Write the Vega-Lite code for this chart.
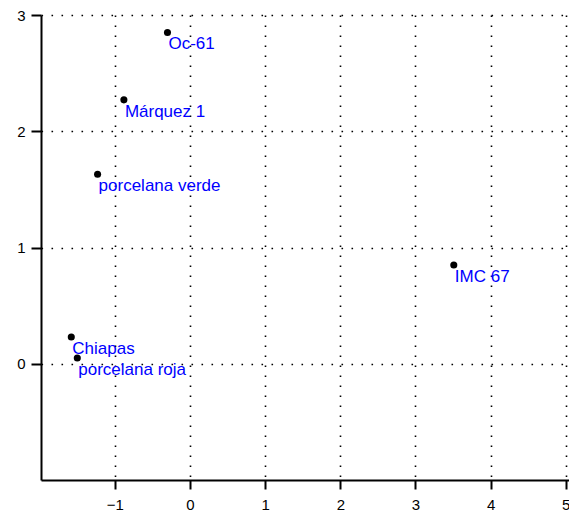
{
  "$schema": "https://vega.github.io/schema/vega-lite/v6.json",
  "width": 528,
  "height": 465,
  "autosize": {"type": "none"},
  "padding": {"left": 41, "top": 15, "right": 0, "bottom": 32},
  "background": "white",
  "config": {
    "view": {"stroke": null},
    "font": "Liberation Sans"
  },
  "data": {
    "values": [
      {"x": -0.30, "y": 2.85, "label": "Oc-61"},
      {"x": -0.88, "y": 2.27, "label": "Márquez 1"},
      {"x": -1.23, "y": 1.63, "label": "porcelana verde"},
      {"x": 3.51, "y": 0.85, "label": "IMC 67"},
      {"x": -1.58, "y": 0.23, "label": "Chiapas"},
      {"x": -1.50, "y": 0.05, "label": "porcelana roja"}
    ]
  },
  "encoding": {
    "x": {
      "field": "x",
      "type": "quantitative",
      "scale": {"domain": [-1.983, 5.043], "nice": false, "zero": false},
      "axis": {
        "title": null,
        "values": [-1, 0, 1, 2, 3, 4, 5],
        "grid": true,
        "gridColor": "black",
        "gridDash": [1.6, 8.4],
        "gridWidth": 1.6,
        "gridOpacity": 1,
        "domainColor": "black",
        "domainWidth": 2,
        "tickColor": "black",
        "tickWidth": 2,
        "tickSize": 9,
        "labelFontSize": 15,
        "labelColor": "black",
        "labelPadding": 8,
        "labelFont": "Liberation Sans",
        "labelFlush": false,
        "labelOverlap": false
      }
    },
    "y": {
      "field": "y",
      "type": "quantitative",
      "scale": {"domain": [-1.0, 3.0], "nice": false, "zero": false},
      "axis": {
        "title": null,
        "values": [0, 1, 2, 3],
        "grid": true,
        "gridColor": "black",
        "gridDash": [1.6, 8.4],
        "gridWidth": 1.6,
        "gridOpacity": 1,
        "domainColor": "black",
        "domainWidth": 2,
        "tickColor": "black",
        "tickWidth": 2,
        "tickSize": 10,
        "labelFontSize": 15,
        "labelColor": "black",
        "labelPadding": 6,
        "labelFont": "Liberation Sans",
        "labelFlush": false,
        "labelOverlap": false
      }
    }
  },
  "layer": [
    {
      "mark": {"type": "point", "filled": true, "color": "black", "opacity": 1, "size": 50, "shape": "circle"}
    },
    {
      "mark": {"type": "text", "align": "left", "baseline": "top", "dx": 1, "dy": 4, "fontSize": 17, "color": "#0000FF", "font": "Liberation Sans"},
      "encoding": {"text": {"field": "label", "type": "nominal"}}
    }
  ]
}
